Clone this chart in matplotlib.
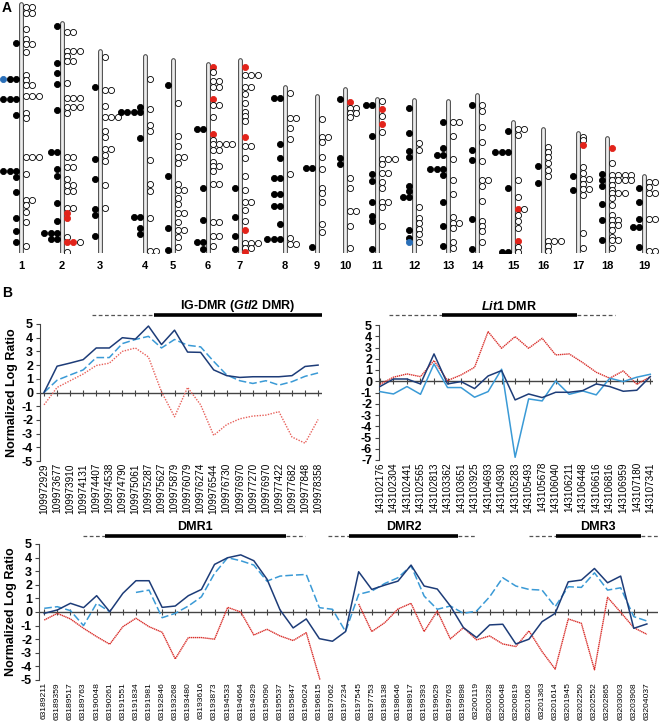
import numpy as np
import matplotlib
matplotlib.use('Agg')
import matplotlib.pyplot as plt
import matplotlib.transforms as mtransforms

plt.rcParams['font.family'] = ['Liberation Sans', 'DejaVu Sans']
plt.rcParams['mathtext.fontset'] = 'custom'
plt.rcParams['mathtext.it'] = 'Liberation Sans:bold:italic'
plt.rcParams['mathtext.rm'] = 'Liberation Sans:bold'

# ---------------- Panel A data (positions in Mb from the chromosome top) -------------
chrom_names = [str(i) for i in range(1, 20)]
chrom_len = [197.2, 181.7, 159.6, 155.6, 152.5, 149.5, 152.5, 131.7, 124.1, 130.0,
             121.8, 121.3, 120.3, 125.2, 103.5, 98.3, 95.3, 90.8, 61.3]
# codes, listed from the chromosome outward: k=black, o=open, r=red, b=blue
c1_left = [(30.7, 'k'), (59.7, 'kkb'), (75.5, 'kkk'), (87.9, 'k'), (132.0, 'kkk'), (136.8, 'k'),
           (149.2, 'k'), (169.2, 'k'), (179.5, 'k'), (188.8, 'k')]
c1_right = [(2.2, 'oo'), (7.5, 'oo'), (19.9, 'o'), (27.8, 'o'), (32.0, 'oo'), (38.3, 'o'), (56.3, 'o'),
            (60.2, 'o'), (64.2, 'oo'), (72.9, 'ooo'), (86.6, 'o'), (90.6, 'o'), (120.9, 'ooo'),
            (134.7, 'o'), (155.2, 'oo'), (159.2, 'o'), (165.0, 'o'), (172.4, 'o'), (191.4, 'o')]
c2_left = [(2.0, 'k'), (31.0, 'k'), (39.5, 'k'), (48.2, 'k'), (68.5, 'k'), (102.0, 'kk'), (114.9, 'k'),
           (120.5, 'k'), (142.4, 'k'), (156.1, 'k'), (165.6, 'kkk'), (170.6, 'kk')]
c2_right = [(6.5, 'oo'), (21.5, 'ooo'), (25.5, 'o'), (29.7, 'oo'), (46.8, 'o'), (58.7, 'ooo'),
            (65.8, 'ooo'), (71.1, 'o'), (105.4, 'oo'), (113.9, 'oo'), (123.1, 'o'), (127.9, 'oo'),
            (132.4, 'oo'), (146.3, 'oo'), (150.3, 'r'), (154.3, 'r'), (169.3, 'o'), (173.3, 'rro'),
            (180.6, 'o')]
c3_left = [(27.9, 'k'), (85.2, 'k'), (101.3, 'k'), (125.0, 'k'), (129.5, 'k'), (146.1, 'k')]
c3_right = [(4.2, 'o'), (30.6, 'oo'), (43.0, 'o'), (51.7, 'ooo'), (63.0, 'o'), (67.5, 'o'), (77.3, 'oo'),
            (82.0, 'o'), (86.5, 'o'), (105.8, 'o'), (124.2, 'o')]
c4_left = [(39.7, 'k'), (44.2, 'kkkk'), (64.8, 'k'), (126.8, 'kk'), (136.1, 'k'), (140.8, 'k')]
c4_right = [(17.8, 'o'), (41.6, 'o'), (54.3, 'o'), (58.7, 'o'), (82.0, 'o'), (101.2, 'o'), (106.5, 'o'),
            (128.2, 'o'), (153.8, 'oo')]
c5_left = [(19.5, 'k'), (91.5, 'k'), (132.4, 'k'), (150.1, 'k')]
c5_right = [(34.0, 'o'), (59.9, 'o'), (67.5, 'o'), (76.2, 'oo'), (81.5, 'o'), (98.1, 'o'), (102.6, 'oo'),
            (108.7, 'o'), (113.7, 'o'), (121.1, 'oo'), (127.7, 'o'), (134.3, 'oo'), (139.6, 'o'),
            (148.0, 'o')]
c6_left = [(51.3, 'kk'), (97.8, 'k'), (123.4, 'k'), (140.5, 'kk'), (146.6, 'k')]
c6_right = [(2.0, 'r'), (5.9, 'o'), (13.3, 'oo'), (17.8, 'oo'), (27.8, 'r'), (32.3, 'oo'), (41.6, 'o'),
            (55.6, 'r'), (60.0, 'o'), (63.5, 'oooo'), (68.0, 'oo'), (77.2, 'o'), (80.4, 'oo'),
            (84.3, 'o'), (95.1, 'oo'), (124.7, 'oo'), (136.0, 'oo'), (144.0, 'o')]
c7_left = [(100.8, 'k'), (123.7, 'k'), (139.0, 'k'), (149.6, 'k')]
c7_right = [(5.0, 'r'), (11.6, 'ooo'), (20.8, 'oo'), (26.9, 'o'), (33.5, 'o'), (40.6, 'o'), (44.0, 'o'),
            (47.7, 'o'), (60.4, 'r'), (67.5, 'oo'), (77.0, 'o'), (91.5, 'o'), (102.9, 'o'),
            (112.4, 'oo'), (118.5, 'o'), (126.9, 'o'), (134.3, 'r'), (144.8, 'ooo'), (148.8, 'oo'),
            (151.7, 'r')]
c8_left = [(9.3, 'kk'), (45.7, 'k'), (56.8, 'k'), (72.6, 'kk'), (85.0, 'kk'), (94.5, 'kk'), (109.0, 'k'),
           (120.4, 'kkk')]
c8_right = [(4.8, 'o'), (24.6, 'oo'), (33.0, 'o'), (41.4, 'o'), (69.2, 'o'), (119.6, 'o'), (124.6, 'oo')]
c9_left = [(56.5, 'kk'), (119.1, 'k')]
c9_right = [(18.0, 'o'), (32.5, 'oo'), (36.5, 'o'), (48.4, 'o'), (57.9, 'o'), (72.4, 'o'), (76.9, 'o'),
            (83.5, 'o'), (101.4, 'o'), (107.7, 'o')]
c10_left = [(8.1, 'k'), (55.1, 'k'), (59.8, 'k')]
c10_right = [(10.7, 'r'), (14.9, 'oo'), (18.9, 'oo'), (22.6, 'o'), (70.9, 'o'), (78.8, 'o'), (96.5, 'oo'),
             (108.4, 'o'), (125.8, 'o')]
c11_left = [(4.6, 'kk'), (28.9, 'k'), (59.5, 'k'), (64.8, 'k'), (81.7, 'k'), (92.5, 'k'), (96.5, 'k'),
            (118.6, 'k')]
c11_right = [(1.5, 'o'), (7.8, 'r'), (13.1, 'o'), (19.9, 'r'), (26.3, 'o'), (47.4, 'ooo'), (51.6, 'o'),
             (58.7, 'oo'), (65.3, 'o'), (70.6, 'o'), (81.7, 'oo'), (85.6, 'o'), (100.4, 'o')]
c12_left = [(6.2, 'k'), (26.0, 'k'), (40.3, 'k'), (45.6, 'k'), (68.3, 'k'), (72.2, 'k'), (76.7, 'kk'),
            (103.1, 'k'), (109.2, 'k'), (112.9, 'b')]
c12_right = [(34.5, 'o'), (39.5, 'o'), (84.6, 'o'), (93.9, 'o'), (97.8, 'o'), (102.3, 'o'), (106.5, 'o'),
             (112.9, 'o')]
c13_left = [(16.3, 'k'), (37.4, 'k'), (42.7, 'kk'), (53.5, 'kkk'), (58.8, 'k'), (79.7, 'k'), (98.7, 'k'),
            (114.5, 'k')]
c13_right = [(16.3, 'oo'), (27.7, 'o'), (45.9, 'o'), (62.5, 'o'), (73.6, 'o'), (92.1, 'o'), (96.3, 'oo'),
             (100.8, 'o'), (111.9, 'o'), (116.6, 'o')]
c14_left = [(8.0, 'k'), (43.7, 'k'), (51.8, 'k'), (98.3, 'k'), (122.0, 'k')]
c14_right = [(8.0, 'o'), (12.5, 'o'), (25.2, 'o'), (37.6, 'o'), (52.6, 'o'), (67.7, 'oo'), (72.2, 'o'),
             (83.8, 'o'), (99.6, 'o'), (103.8, 'o'), (108.0, 'o'), (116.2, 'o')]
c15_left = [(6.6, 'k'), (23.8, 'kkk'), (51.8, 'k'), (103.0, 'kk')]
c15_right = [(5.6, 'oo'), (10.1, 'o'), (45.7, 'o'), (58.9, 'o'), (68.9, 'ro'), (73.4, 'o'), (77.9, 'o'),
             (84.0, 'o'), (94.0, 'r'), (98.5, 'o'), (103.0, 'o')]
c16_left = [(29.2, 'k'), (42.6, 'k')]
c16_right = [(14.1, 'o'), (18.1, 'o'), (22.6, 'o'), (27.3, 'o'), (32.6, 'o'), (37.1, 'o'), (88.8, 'ooo'),
             (92.8, 'o'), (96.5, 'o')]
c17_left = [(34.1, 'k'), (45.4, 'k')]
c17_right = [(3.2, 'o'), (5.8, 'o'), (9.8, 'r'), (27.5, 'o'), (32.2, 'o'), (36.7, 'oo'), (40.7, 'o'),
             (44.9, 'oo'), (49.4, 'o'), (79.7, 'o'), (91.6, 'o')]
c18_left = [(28.5, 'k'), (33.0, 'k'), (37.8, 'k'), (52.3, 'k'), (64.7, 'k'), (80.8, 'k')]
c18_right = [(7.9, 'r'), (19.8, 'o'), (29.0, 'oooo'), (33.0, 'oooo'), (37.0, 'o'), (40.9, 'o'),
             (43.0, 'ooo'), (47.5, 'o'), (52.8, 'o'), (60.7, 'o'), (64.7, 'oo'), (68.6, 'oo'),
             (72.6, 'o'), (77.9, 'o'), (80.8, 'oo'), (86.6, 'o')]
c19_left = [(9.6, 'k'), (20.7, 'k'), (34.6, 'k'), (40.5, 'kk'), (56.3, 'k')]
c19_right = [(5.1, 'oo'), (9.3, 'o'), (13.5, 'oo'), (34.6, 'oo'), (59.5, 'oo')]

lefts = [c1_left, c2_left, c3_left, c4_left, c5_left, c6_left, c7_left, c8_left, c9_left, c10_left,
         c11_left, c12_left, c13_left, c14_left, c15_left, c16_left, c17_left, c18_left, c19_left]
rights = [c1_right, c2_right, c3_right, c4_right, c5_right, c6_right, c7_right, c8_right, c9_right,
          c10_right, c11_right, c12_right, c13_right, c14_right, c15_right, c16_right, c17_right,
          c18_right, c19_right]

# ---------------- Panel B data ----------------
ig_labels = ['109972929', '109973677', '109973910', '109974131', '109974407', '109974538', '109974790',
             '109975061', '109975287', '109975627', '109975879', '109976079', '109976274', '109976544',
             '109976730', '109976970', '109977270', '109976970', '109977422', '109977682', '109977848',
             '109978358']
ig_dark = [0, 1.92, 2.15, 2.4, 3.25, 3.25, 4.0, 3.9, 4.85, 3.5, 4.55, 2.95, 2.93, 1.65, 1.23, 1.1, 1.15,
           1.15, 1.15, 1.23, 1.9, 2.0]
ig_light = [0, 0.9, 1.28, 1.65, 2.55, 2.55, 3.57, 3.87, 4.1, 3.25, 3.87, 3.45, 3.33, 2.27, 1.28, 0.86,
            0.66, 0.86, 0.54, 0.79, 1.18, 1.43]
ig_red = [-0.9, 0.37, 0.86, 1.35, 1.97, 2.14, 3.0, 3.25, 2.59, 0.05, -1.77, 0.37, -0.9, -3.13, -2.34,
          -1.92, -1.72, -1.65, -1.4, -3.25, -3.7, -1.97]

lit_labels = ['143102176', '143102304', '143102441', '143102565', '143102813', '143103362', '143103651',
              '143103925', '143104693', '143104930', '143105283', '143105493', '143105678', '143106040',
              '143106211', '143106448', '143106616', '143106816', '143106959', '143107180', '143107341']
lit_dark = [-0.47, 0.2, 0.2, -0.24, 2.43, -0.24, -0.03, -0.65, 0.47, 0.95, -1.66, -1.13, -1.45, -0.98,
            -0.98, -0.83, -0.24, -0.47, -0.89, -0.8, 0.41]
lit_light = [-0.92, -1.13, -0.47, -1.16, 1.54, -0.56, -0.56, -1.42, -0.92, 1.07, -6.76, -1.57, -1.75,
             0.03, -1.16, -0.86, -1.21, 0.27, -0.03, 0.36, 0.62]
lit_red = [-0.27, 0.36, 0.65, 0.41, 1.84, 0.06, 0.56, 1.24, 4.41, 2.93, 3.97, 2.93, 3.82, 2.34, 2.43,
           1.66, 0.8, 0.27, 0.92, -0.27, 0.41]

dmr_labels = ['63189211', '63189359', '63189517', '63189763', '63190048', '63190261', '63191551',
              '63191834', '63191981', '63192846', '63193268', '63193480', '63193616', '63193873',
              '63194533', '63194664', '63194929', '63195090', '63195537', '63195847', '63196024',
              '63196815', '63197062', '63197234', '63197545', '63197753', '63198138', '63198646',
              '63198917', '63199393', '63199629', '63199763', '63199898', '63200119', '63200328',
              '63200648', '63200819', '63201063', '63201363', '63201614', '63201945', '63202250',
              '63202552', '63202865', '63203003', '63203908', '63204037']
dmr_dark = [-0.1, 0.15, 0.64, 0.32, 1.2, 0.02, 1.37, 2.3, 2.3, 0.34, 0.44, 1.2, 1.66, 3.5, 3.99, 4.2,
            3.77, 2.42, 0.15, -1.17, -0.51, -1.96, -2.15, -1.44, 2.96, 1.66, 1.98, 2.27, 3.45, 1.91,
            1.69, 0.44, -1.15, -1.88, -0.95, -0.9, -2.35, -2.0, -0.71, -0.1, 2.22, 2.35, 3.2, 2.15,
            2.64, -1.2, -0.88]
dmr_light = [0.27, 0.39, 0.1, -1.0, 0.64, 0.02, np.nan, 1.44, 1.61, -0.42, -0.1, 0.44, 1.12, 2.84,
             3.99, 3.77, 3.45, 2.27, 2.64, 2.71, 2.76, 0.32, 0.2, -1.44, 1.3, 1.54, 2.1, 2.52, 3.4,
             1.17, 0.2, 0.44, -0.1, 0.07, 1.12, 2.52, 1.91, 1.66, 1.61, 0.39, 1.86, 1.81, 2.88, 1.61,
             1.78, -0.34, -0.66]
dmr_red = [-0.59, -0.1, -0.51, -1.2, -1.81, -2.37, -1.08, -0.46, -1.08, -1.49, -3.45, -1.88, -1.88,
           -2.0, 0.34, 0.0, -1.69, -1.27, -1.76, -2.1, -1.52, -4.82, -8.5, np.nan, 0.59, -1.44, -0.78,
           0.22, 0.64, -1.44, 0.07, -1.98, -1.15, -2.05, -1.76, -2.35, -2.54, -1.39, -2.91, -4.2,
           -0.51, -0.83, -4.25, 1.08, -0.02, -1.15, -1.64]

# region bars: (dashed start, solid start, solid end, dashed end) in probe-index units
ig_region = (3.68, 8.43, 21.3, 21.3)
lit_region = (0.67, 4.58, 14.56, 17.37)
dmr1_region = (2.95, 4.63, 18.45, 19.9)
dmr2_region = (21.66, 23.26, 31.58, 32.88)
dmr3_region = (36.99, 39.05, 45.55, 46.85)

# ---------------- Figure ----------------
W, H = 659, 722
fig = plt.figure(figsize=(W / 100, H / 100), dpi=100)

# Panel A
chrom_x = [21, 62, 100, 145, 173, 208, 240, 285, 317, 345, 377, 414, 448, 477, 513, 543, 578, 607, 644]
axA = fig.add_axes([0, 1 - 253 / H, 1, 253 / H])
axA.set_xlim(0, W)
axA.set_ylim(0, -200.3)
axA.axis('off')
fill = {'k': 'black', 'o': 'white', 'r': '#e2231a', 'b': '#2a6fb8'}
edge = {'k': 'black', 'o': 'black', 'r': '#e2231a', 'b': '#2a6fb8'}
for i, (L, left, right) in enumerate(zip(chrom_len, lefts, rights)):
    cx = chrom_x[i]
    axA.plot([cx, cx], [-L, 0], color='#3a3a3a', lw=3.4, solid_capstyle='round', zorder=1)
    axA.plot([cx, cx], [-L, 0], color='#ececec', lw=2.0, solid_capstyle='round', zorder=1.1)
    for rows, sgn in ((left, -1), (right, 1)):
        for pos, code in rows:
            for j, ch in enumerate(code):
                axA.plot(cx + sgn * (5.2 + 6.2 * j), pos - L, 'o', ms=4.4, mfc=fill[ch],
                         mec=edge[ch], mew=0.6, zorder=3)
    axA.text(cx, 10.5, chrom_names[i], ha='center', va='center', fontsize=8, fontweight='bold',
             clip_on=False)
fig.text(2 / W, 1 - 8 / H, 'A', fontsize=10, fontweight='bold', ha='left', va='center')
fig.text(2 / W, 1 - 293 / H, 'B', fontsize=10, fontweight='bold', ha='left', va='center')

DARK = '#1d3c78'
LIGHT = '#3a9ad6'


def panel(rect, labels, dark, light, red, ylim, yticks, xlim, red_color, red_ls, light_ls,
          xfs, ylabel=True):
    ax = fig.add_axes(rect)
    x = np.arange(len(labels))
    ax.set_xlim(*xlim)
    ax.set_ylim(*ylim)
    ax.axhline(0, color='#444444', lw=1.0, zorder=1)
    ax.plot(x, np.zeros(len(x)), '|', color='#444444', ms=4.5, mew=0.8, zorder=1)
    ax.plot(x, red, color=red_color, lw=1.0, ls=red_ls, zorder=2)
    ax.plot(x, light, color=LIGHT, lw=1.1, ls=light_ls, zorder=3)
    ax.plot(x, dark, color=DARK, lw=1.1, zorder=4)
    for s in ('top', 'right', 'bottom'):
        ax.spines[s].set_visible(False)
    ax.spines['left'].set_color('#444444')
    ax.set_xticks(x)
    ax.set_xticklabels(labels, rotation=90, fontsize=xfs)
    ax.tick_params(axis='x', length=0, pad=1.5)
    ax.set_yticks(yticks)
    ax.set_yticklabels([str(v) for v in yticks], fontsize=9, fontweight='bold')
    ax.tick_params(axis='y', length=3, pad=2, color='#444444')
    if ylabel:
        ax.set_ylabel('Normalized Log Ratio', fontsize=9, fontweight='bold', labelpad=3)
    return ax


def region(ax, reg, label, ybar, ylab):
    tr = mtransforms.blended_transform_factory(ax.transData, ax.transAxes)
    d0, s0, s1, d1 = reg
    ax.plot([d0, s0], [ybar, ybar], color='#555555', lw=0.9, ls=(0, (3, 2)), transform=tr,
            clip_on=False)
    ax.plot([s1, d1], [ybar, ybar], color='#555555', lw=0.9, ls=(0, (3, 2)), transform=tr,
            clip_on=False)
    ax.plot([s0, s1], [ybar, ybar], color='black', lw=2.6, solid_capstyle='butt', transform=tr,
            clip_on=False)
    ax.text((s0 + s1) / 2, ylab, label, transform=tr, ha='center', va='center', fontsize=9,
            fontweight='bold', clip_on=False)


ax1 = panel([40 / W, 1 - 461 / H, 282 / W, 137 / H], ig_labels, ig_dark, ig_light, ig_red,
            (-5, 5), list(range(5, -6, -1)), (-0.31, 21.3), '#e8605a', (0, (1, 1)),
            (0, (5, 2)), 7.2)
region(ax1, ig_region, r'IG-DMR ($\mathit{Gtl2}$ DMR)', 1.066, 1.13)

ax2 = panel([379 / W, 1 - 460 / H, 274 / W, 135 / H], lit_labels, lit_dark, lit_light, lit_red,
            (-7, 5), list(range(5, -8, -1)), (-0.07, 20.2), '#d9302c', (0, (1, 0.5)),
            '-', 7.2, ylabel=False)
region(ax2, lit_region, r'$\mathit{Lit1}$ DMR', 1.074, 1.14)

ax3 = panel([39 / W, 1 - 680 / H, 619 / W, 136 / H], dmr_labels, dmr_dark, dmr_light, dmr_red,
            (-5, 5), list(range(5, -6, -1)), (-0.4, 46.85), '#d9302c', (0, (1, 0.4)),
            (0, (5, 2)), 6.1)
region(ax3, dmr1_region, 'DMR1', 1.059, 1.125)
region(ax3, dmr2_region, 'DMR2', 1.059, 1.125)
region(ax3, dmr3_region, 'DMR3', 1.059, 1.125)

fig.savefig('out.png', dpi=100)
